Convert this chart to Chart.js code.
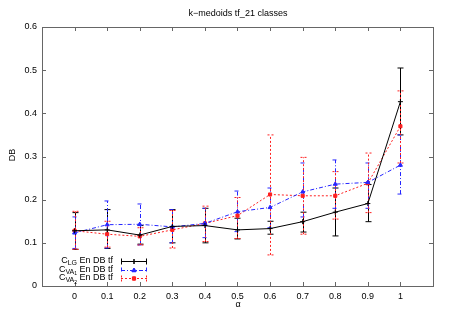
<!DOCTYPE html>
<html>
<head>
<meta charset="utf-8">
<script src="https://cdn.jsdelivr.net/npm/chart.js@4.4.1/dist/chart.umd.min.js"></script>
<style>
  html, body { margin: 0; padding: 0; background: #fff; }
  #wrap { width: 450px; height: 315px; }
</style>
</head>
<body>
<div id="wrap"><canvas id="chart" width="450" height="315"></canvas></div>
<script>
// alpha values on the x axis
const alpha = [0, 0.1, 0.2, 0.3, 0.4, 0.5, 0.6, 0.7, 0.8, 0.9, 1];
const yTicks = [0, 0.1, 0.2, 0.3, 0.4, 0.5, 0.6];

// C_LG
const clgMean = [0.128, 0.130, 0.118, 0.138, 0.140, 0.130, 0.133, 0.149, 0.171, 0.191, 0.427];
const clgLow  = [0.085, 0.087, 0.097, 0.100, 0.100, 0.109, 0.120, 0.125, 0.116, 0.149, 0.350];
const clgHigh = [0.170, 0.177, 0.140, 0.177, 0.180, 0.157, 0.150, 0.171, 0.227, 0.235, 0.505];

// C_VA1
const va1Mean = [0.123, 0.142, 0.143, 0.137, 0.145, 0.172, 0.182, 0.218, 0.236, 0.240, 0.280];
const va1Low  = [0.087, 0.088, 0.095, 0.100, 0.112, 0.126, 0.135, 0.160, 0.180, 0.180, 0.213];
const va1High = [0.160, 0.197, 0.190, 0.177, 0.180, 0.220, 0.227, 0.285, 0.292, 0.285, 0.350];

// C_VA2
const va2Mean = [0.128, 0.120, 0.115, 0.130, 0.145, 0.163, 0.212, 0.209, 0.209, 0.238, 0.370];
const va2Low  = [0.085, 0.090, 0.095, 0.088, 0.103, 0.110, 0.072, 0.120, 0.155, 0.170, 0.285];
const va2High = [0.173, 0.150, 0.135, 0.175, 0.185, 0.205, 0.350, 0.298, 0.265, 0.308, 0.452];

const FONT = "Liberation Sans, Arial, sans-serif";

const series = [
  { mean: clgMean, low: clgLow, high: clgHigh, color: "#000000", dash: [], style: "cross", r: 2.5 },
  { mean: va1Mean, low: va1Low, high: va1High, color: "#2626ff", dash: [4, 2, 1, 2], style: "triangle", r: 2.3 },
  { mean: va2Mean, low: va2Low, high: va2High, color: "#ff2020", dash: [2, 2], style: "rect", r: 2.2 }
];

const toXY = (arr) => arr.map((v, i) => ({ x: alpha[i], y: v }));

// error bars, frame, inward ticks, title and key
const gnuplotLook = {
  id: "gnuplotLook",
  beforeDatasetsDraw(chart) {
    const ctx = chart.ctx;
    const xs = chart.scales.x, ys = chart.scales.y;
    ctx.save();
    series.forEach((s) => {
      ctx.strokeStyle = s.color;
      ctx.lineWidth = 1;
      ctx.setLineDash(s.dash);
      alpha.forEach((a, i) => {
        const px = Math.round(xs.getPixelForValue(a)) + 0.5;
        const y1 = ys.getPixelForValue(s.low[i]);
        const y2 = ys.getPixelForValue(s.high[i]);
        ctx.beginPath();
        ctx.moveTo(px, y1); ctx.lineTo(px, y2);
        ctx.moveTo(px - 3, y1); ctx.lineTo(px + 3, y1);
        ctx.moveTo(px - 3, y2); ctx.lineTo(px + 3, y2);
        ctx.stroke();
      });
    });
    ctx.restore();
  },
  afterDraw(chart) {
    const ctx = chart.ctx;
    const a = chart.chartArea;
    const xs = chart.scales.x, ys = chart.scales.y;
    ctx.save();
    ctx.setLineDash([]);
    ctx.strokeStyle = "#666";
    ctx.lineWidth = 1;
    ctx.strokeRect(Math.round(a.left) + 0.5, Math.round(a.top) + 0.5,
      Math.round(a.right - a.left), Math.round(a.bottom - a.top));
    ctx.beginPath();
    alpha.forEach((v) => {
      const px = Math.round(xs.getPixelForValue(v)) + 0.5;
      ctx.moveTo(px, a.bottom); ctx.lineTo(px, a.bottom - 4);
      ctx.moveTo(px, a.top); ctx.lineTo(px, a.top + 4);
    });
    yTicks.forEach((v) => {
      const py = Math.round(ys.getPixelForValue(v)) + 0.5;
      ctx.moveTo(a.left, py); ctx.lineTo(a.left + 4, py);
      ctx.moveTo(a.right, py); ctx.lineTo(a.right - 4, py);
    });
    ctx.stroke();

    // title and axis labels
    ctx.fillStyle = "#000";
    ctx.font = "9px " + FONT;
    ctx.textAlign = "center";
    ctx.textBaseline = "middle";
    ctx.fillText("k\u2212medoids tf_21 classes", 238, 14);
    ctx.fillText("\u03b1", 238, 305);
    ctx.save();
    ctx.translate(13, 155);
    ctx.rotate(-Math.PI / 2);
    ctx.fillText("DB", 0, 0);
    ctx.restore();

    // key
    const keys = [
      { parts: [["C", 0, 9], ["LG", 2.5, 7]] },
      { parts: [["C", 0, 9], ["VA", 2.5, 7], ["1", 4.5, 5]] },
      { parts: [["C", 0, 9], ["VA", 2.5, 7], ["2", 4.5, 5]] }
    ];
    const keyY = [261, 269.5, 278];
    keys.forEach((k, i) => {
      const y = keyY[i];
      const tail = " En DB tf";
      ctx.font = "9px " + FONT;
      let w = ctx.measureText(tail).width;
      k.parts.forEach((p) => { ctx.font = p[2] + "px " + FONT; w += ctx.measureText(p[0]).width; });
      let x = 113 - w;
      ctx.textAlign = "left";
      k.parts.forEach((p) => {
        ctx.font = p[2] + "px " + FONT;
        ctx.fillText(p[0], x, y + p[1]);
        x += ctx.measureText(p[0]).width;
      });
      ctx.font = "9px " + FONT;
      ctx.fillText(tail, x, y);

      const s = series[i];
      ctx.strokeStyle = s.color;
      ctx.setLineDash(s.dash);
      ctx.beginPath();
      const yy = Math.round(y) + 0.5;
      ctx.moveTo(121, yy); ctx.lineTo(147, yy);
      ctx.moveTo(121.5, yy - 3); ctx.lineTo(121.5, yy + 3);
      ctx.moveTo(146.5, yy - 3); ctx.lineTo(146.5, yy + 3);
      ctx.stroke();
      ctx.setLineDash([]);
      Chart.helpers.drawPoint(ctx, { pointStyle: s.style, radius: s.r, borderWidth: 1 }, 134, yy);
      ctx.fillStyle = s.color;
      ctx.fill();
      ctx.stroke();
      ctx.fillStyle = "#000";
    });
    ctx.restore();
  }
};

const datasets = series.map((s) => ({
  data: toXY(s.mean),
  borderColor: s.color,
  backgroundColor: s.color,
  borderWidth: 1,
  borderDash: s.dash,
  pointStyle: s.style,
  pointRadius: s.r,
  pointBorderWidth: 1,
  pointBackgroundColor: s.color,
  pointBorderColor: s.color,
  tension: 0,
  fill: false
}));

new Chart(document.getElementById("chart"), {
  type: "line",
  data: { datasets: datasets },
  plugins: [gnuplotLook],
  options: {
    responsive: false,
    animation: false,
    devicePixelRatio: 1,
    layout: { padding: { left: 0, top: 27, right: 17, bottom: 0 } },
    plugins: { legend: { display: false }, title: { display: false }, tooltip: { enabled: false } },
    scales: {
      x: {
        type: "linear",
        min: -0.1,
        max: 1.1,
        afterFit: (s) => { s.height = 29; },
        afterBuildTicks: (s) => { s.ticks = alpha.map((v) => ({ value: v })); },
        grid: { display: false, drawTicks: false },
        border: { display: false },
        ticks: {
          padding: 5,
          color: "#000",
          font: { family: FONT, size: 9 },
          maxRotation: 0,
          autoSkip: false,
          callback: (v) => String(Math.round(v * 10) / 10)
        }
      },
      y: {
        type: "linear",
        min: 0,
        max: 0.6,
        afterFit: (s) => { s.width = 42; },
        afterBuildTicks: (s) => { s.ticks = yTicks.map((v) => ({ value: v })); },
        grid: { display: false, drawTicks: false },
        border: { display: false },
        ticks: {
          padding: 5,
          color: "#000",
          font: { family: FONT, size: 9 },
          callback: (v) => String(Math.round(v * 10) / 10)
        }
      }
    }
  }
});
</script>
</body>
</html>
